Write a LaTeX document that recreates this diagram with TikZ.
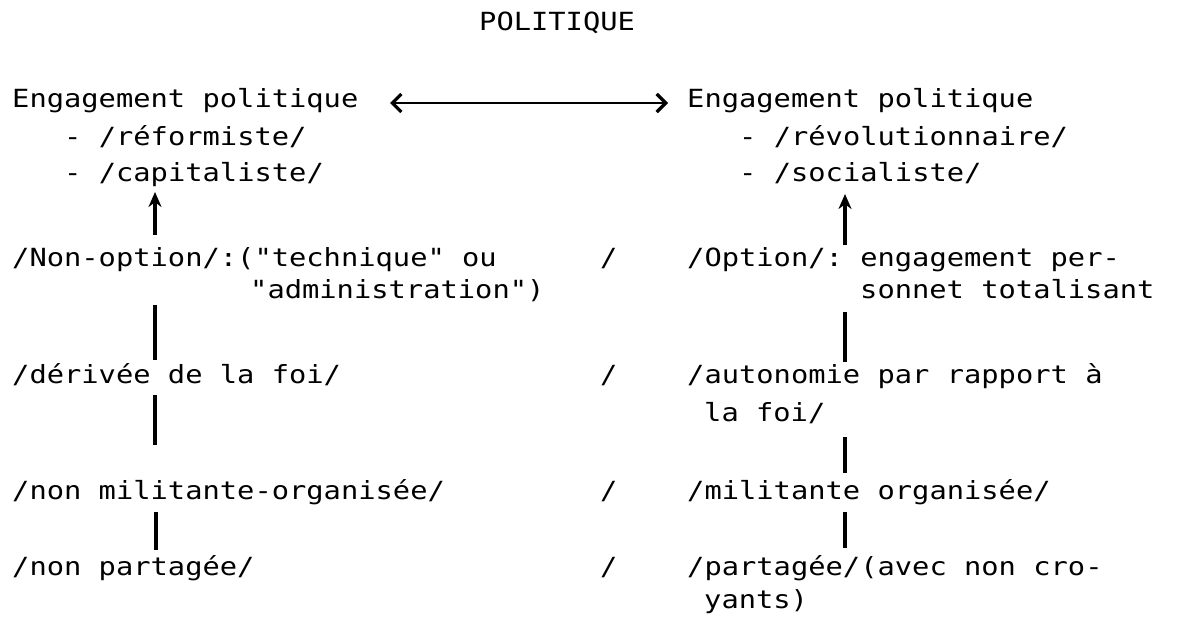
\documentclass[tikz,border=0pt]{standalone}
\usepackage{fontspec}
\setmonofont{DejaVu Sans Mono}[FakeStretch=1.15]
\usetikzlibrary{arrows.meta}
\begin{document}
\begin{tikzpicture}[x=1pt,y=-1pt,
  txt/.style={anchor=base west, inner sep=0pt, font=\fontsize{25}{30}\selectfont\ttfamily},
  link/.style={line width=3.5pt},
  uparrow/.style={line width=3.2pt, -{Stealth[length=15pt,width=13pt]}},
  barb/.tip={Straight Barb[length=9pt,width=18pt,line width=3.2pt]},
  bothways/.style={line width=2.4pt, {barb}-{barb}}]
\useasboundingbox (0,0) rectangle (1188,621);

% title
\node[txt] (title) at (479,30) {POLITIQUE};

% left column
\node[txt] (lhead) at (12,107) {Engagement politique};
\node[txt] (lref)  at (64,145) {- /réformiste/};
\node[txt] (lcap)  at (64,181) {- /capitaliste/};
\node[txt] (lnon)  at (12,266) {/Non-option/:("technique" ou};
\node[txt] (ladm)  at (250,298) {"administration")};
\node[txt] (lder)  at (12,383) {/dérivée de la foi/};
\node[txt] (lmil)  at (12,499) {/non militante-organisée/};
\node[txt] (lpar)  at (12,575) {/non partagée/};

% separators between the two columns
\node[txt] (s1) at (600,266) {/};
\node[txt] (s2) at (600,383) {/};
\node[txt] (s3) at (600,499) {/};
\node[txt] (s4) at (600,575) {/};

% right column
\node[txt] (rhead) at (687,107) {Engagement politique};
\node[txt] (rrev)  at (739,145) {- /révolutionnaire/};
\node[txt] (rsoc)  at (739,181) {- /socialiste/};
\node[txt] (ropt)  at (687,266) {/Option/: engagement per-};
\node[txt] (rson)  at (860,298) {sonnet totalisant};
\node[txt] (raut)  at (687,383) {/autonomie par rapport à};
\node[txt] (rfoi)  at (704,421) {la foi/};
\node[txt] (rmil)  at (687,499) {/militante organisée/};
\node[txt] (rpar)  at (687,575) {/partagée/(avec non cro-};
\node[txt] (rcro)  at (704,608) {yants)};

% end points of the connectors
\coordinate (a1) at (390,103);
\coordinate (a2) at (668,103);
\coordinate (lu1) at (155,235);
\coordinate (lu2) at (155,192);
\coordinate (ll1a) at (155,305);
\coordinate (ll1b) at (155,360);
\coordinate (ll2a) at (155,395);
\coordinate (ll2b) at (155,445);
\coordinate (ll3a) at (156,512);
\coordinate (ll3b) at (156,550);
\coordinate (ru1) at (845,245);
\coordinate (ru2) at (845,194);
\coordinate (rl1a) at (845,312);
\coordinate (rl1b) at (845,362);
\coordinate (rl2a) at (845,437);
\coordinate (rl2b) at (845,473);
\coordinate (rl3a) at (845,512);
\coordinate (rl3b) at (845,548);

% connectors
\draw[bothways] (a1) -- (a2);
\draw[uparrow] (lu1) -- (lu2);
\draw[uparrow] (ru1) -- (ru2);
\draw[link] (ll1a) -- (ll1b);
\draw[link] (ll2a) -- (ll2b);
\draw[link] (ll3a) -- (ll3b);
\draw[link] (rl1a) -- (rl1b);
\draw[link] (rl2a) -- (rl2b);
\draw[link] (rl3a) -- (rl3b);
\end{tikzpicture}
\end{document}
